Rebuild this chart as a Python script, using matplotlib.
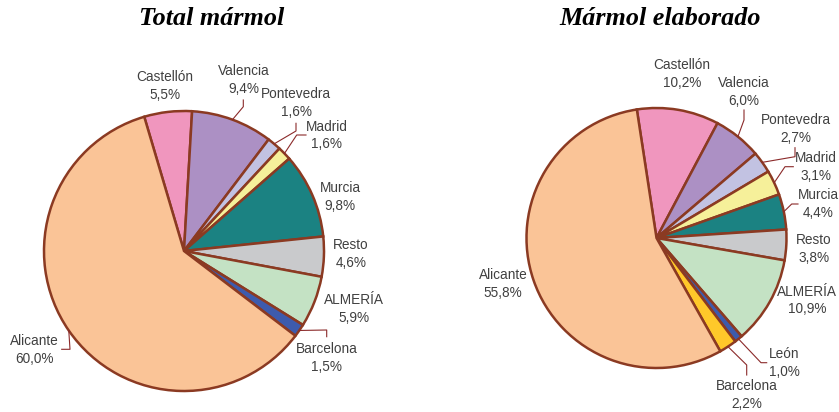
# two pie charts comparing marble production by province

import matplotlib.pyplot as plt
import numpy as np

# data
left_labels = ["Castellón", "Valencia", "Pontevedra", "Madrid", "Murcia",
               "Resto", "ALMERÍA", "Barcelona", "Alicante"]
left_values = [5.5, 9.4, 1.6, 1.6, 9.8, 4.6, 5.9, 1.5, 60.0]

right_labels = ["Castellón", "Valencia", "Pontevedra", "Madrid", "Murcia",
                "Resto", "ALMERÍA", "León", "Barcelona", "Alicante"]
right_values = [10.2, 6.0, 2.7, 3.1, 4.4, 3.8, 10.9, 1.0, 2.2, 55.8]

titles = ["Total mármol", "Mármol elaborado"]

colors = {
    "Castellón": "#F096BE",
    "Valencia": "#AC90C4",
    "Pontevedra": "#C2C2E2",
    "Madrid": "#F6F09A",
    "Murcia": "#1B8282",
    "Resto": "#C9CACC",
    "ALMERÍA": "#C4E2C4",
    "Barcelona": "#3D5BAD",
    "Alicante": "#FAC497",
    "León": "#3D5BAD",
}
right_colors = dict(colors, Barcelona="#FFC82A")

W, H = 839, 412
edge = "#8B3A22"
text_col = "#404040"
lead_col = "#8B2A2A"

fig = plt.figure(figsize=(W / 100, H / 100), dpi=100)
ax = fig.add_axes([0, 0, 1, 1])


def fmt(v):
    return f"{v:.1f}%".replace(".", ",")


# layout (pixel coords, y from top)
pies = [
    dict(labels=left_labels, values=left_values, cols=colors,
         center=(184, 251), r=140, start=106.5, title_x=212,
         pos={"Castellón": (165, 86), "Valencia": (244, 80),
              "Pontevedra": (296, 103), "Madrid": (327, 135.5),
              "Murcia": (340, 197), "Resto": (351, 254),
              "ALMERÍA": (354, 309), "Barcelona": (327, 358),
              "Alicante": (34.5, 350)},
         leads={"Valencia": [(243.3, 106.7), (243.3, 100)],
                "Pontevedra": [(296, 131), (296, 123.3)],
                "Madrid": [(296.7, 135), (306, 135)],
                "Barcelona": [(326.7, 330), (326.7, 336.7)],
                "Alicante": [(70, 349.3), (61.7, 349.3)]}),
    dict(labels=right_labels, values=right_values, cols=right_colors,
         center=(656.5, 238), r=130, start=98.7, title_x=660,
         pos={"Castellón": (682, 74), "Valencia": (744, 92),
              "Pontevedra": (796, 129), "Madrid": (816, 167),
              "Murcia": (818, 204), "Resto": (814, 249),
              "ALMERÍA": (807, 300.5), "León": (784, 363),
              "Barcelona": (747, 395), "Alicante": (503, 284)},
         leads={"Valencia": [(744, 120), (744, 110)],
                "Pontevedra": [(795, 156.7), (795, 147.7)],
                "Madrid": [(785, 166.7), (793.3, 166.7)],
                "Murcia": [(791.7, 204), (798, 204)],
                "León": [(761, 362.7), (766.7, 362.7)],
                "Barcelona": [(746.7, 365), (746.7, 375)]}),
]

for i, p in enumerate(pies):
    cx, cy = p["center"]
    ax.pie(p["values"], colors=[p["cols"][l] for l in p["labels"]],
           center=(cx, H - cy), radius=p["r"], startangle=p["start"],
           counterclock=False,
           wedgeprops=dict(edgecolor=edge, linewidth=1.8))
    total = sum(p["values"])
    ang = p["start"]
    for lab, v in zip(p["labels"], p["values"]):
        sweep = 360 * v / total
        mid = np.deg2rad(ang - sweep / 2)
        ang -= sweep
        tx, ty = p["pos"][lab]
        ax.text(tx, H - ty, f"{lab}\n{fmt(v)}", ha="center", va="center",
                fontsize=9.8, color=text_col, family="Liberation Sans",
                linespacing=1.32)
        if lab in p["leads"]:
            xs = [cx + p["r"] * np.cos(mid)]
            ys = [H - cy + p["r"] * np.sin(mid)]
            for px, py in p["leads"][lab]:
                xs.append(px)
                ys.append(H - py)
            ax.plot(xs, ys, color=lead_col, lw=0.8)
    ax.text(p["title_x"], H - 18, titles[i], ha="center", va="center",
            fontsize=18.8, fontweight="bold", fontstyle="italic",
            family="Liberation Serif", color="black")

ax.set_xlim(0, W)
ax.set_ylim(0, H)
ax.set_aspect("equal")
ax.axis("off")

fig.savefig("out.png", dpi=100)
